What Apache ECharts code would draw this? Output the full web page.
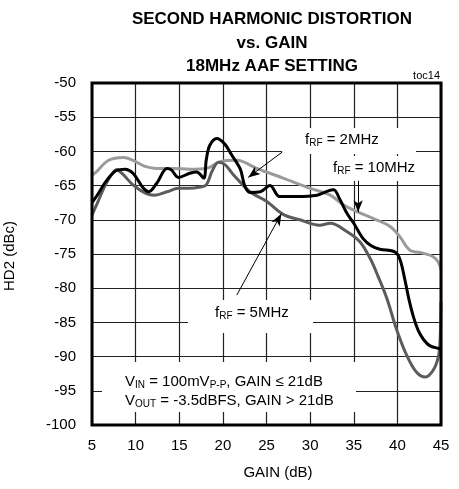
<!DOCTYPE html>
<html>
<head>
<meta charset="utf-8">
<script src="https://cdn.jsdelivr.net/npm/echarts@6.0.0/dist/echarts.min.js"></script>
<style>
    html, body { margin: 0; padding: 0; background: #fff; }
    #chart { width: 459px; height: 489px; }
</style>
</head>
<body>
<div id="chart"></div>
<script>
//曲线数据 (GAIN dB -> HD2 dBc)
var gain2MHz = [5, 5.5, 6.7, 7.8, 8.8, 9.7, 10.9, 11.5, 12.4, 13.6, 14.1, 14.9, 16.2, 17, 17.8, 18.1, 18.5, 19.3, 20.2, 21, 22, 22.5, 23.1, 24.3, 25.4, 26.5, 28.5, 30.8, 32, 32.7, 33.4, 34.2, 35, 36.1, 37, 38, 39.7, 40.3, 40.9, 41.3, 41.8, 42.4, 43, 43.7, 44.7, 45];
var hd2MHz = [-67.5, -66.6, -64.2, -62.8, -62.6, -63.2, -65.4, -65.9, -64.7, -62.5, -62.7, -63.8, -63.2, -63, -63.9, -61.2, -59.1, -58.1, -58.9, -60.5, -62.6, -65, -66, -65.9, -65, -66.6, -66.6, -66.4, -65.8, -65.6, -67, -69, -70.5, -72.8, -73.8, -74.3, -74.7, -75.8, -79, -81.5, -84, -86.2, -87.5, -88.4, -88.8, -88.9];

var gain5MHz = [5, 5.6, 6.5, 7.3, 7.8, 8.5, 9.7, 11.1, 12.2, 13.6, 14.9, 16.2, 17.4, 18.1, 18.8, 19.5, 20.3, 21.2, 23.1, 25, 26.9, 28.8, 31.1, 32.3, 34.2, 35.7, 36.9, 37.8, 38.8, 39.9, 41.1, 42.2, 43.2, 44.1, 44.7, 44.9, 45];
var hd5MHz = [-69.3, -67.6, -65, -63.3, -62.7, -63.3, -64.9, -66.1, -66.4, -65.9, -65.4, -65.4, -65.2, -64.9, -62.8, -61.6, -62, -63.4, -65.9, -67.3, -69.2, -70, -70.8, -70.5, -71.7, -73.2, -75.7, -78.3, -81.5, -86, -89.9, -92.3, -93, -92, -90, -87.5, -82];

var gain10MHz = [5, 5.5, 6.9, 8.6, 9.7, 11.1, 12.4, 14.3, 16.2, 18.1, 19.7, 21.6, 23.9, 26.9, 30, 32.3, 33.8, 35, 37.2, 39.2, 40.3, 41.4, 43, 44.1, 44.7, 45];
var hd10MHz = [-63.5, -63, -61.3, -60.9, -61.3, -62.2, -62.5, -62.5, -62.6, -62.5, -61.5, -61.3, -62.5, -63.9, -65.4, -66.4, -67.8, -68.6, -69.8, -71, -72.5, -74.4, -74.9, -75.4, -76.2, -77.3];

//标注箭头 [起点, 终点]
var arrow2MHz = [[26.8, -60.1], [22.9, -63.8]];
var arrow10MHz = [[35.5, -64.3], [35.5, -68.9]];
var arrow5MHz = [[21.6, -81.0], [26.7, -69.1]];

var xTicks = [5, 45, 5];
var yTicks = [-100, -50, 5];

var FONT = "'Liberation Sans', Arial, sans-serif";

function pairs(xs, ys) {
    var out = [];
    for (var i = 0; i < xs.length; i++) {
        out.push([xs[i], ys[i]]);
    }
    return out;
}

function arrowLine(a) {
    return [{coord: a[0], symbol: 'none'}, {coord: a[1], symbol: 'arrow'}];
}

function curve(name, xs, ys, color) {
    return {
        name: name,
        type: 'line',
        data: pairs(xs, ys),
        smooth: 0.35,
        showSymbol: false,
        lineStyle: {color: color, width: 3},
        z: 3
    };
}

var rich = {
    a: {fontFamily: FONT, fontSize: 15, lineHeight: 18, color: '#000'},
    s: {fontFamily: FONT, fontSize: 10, lineHeight: 8, verticalAlign: 'bottom', color: '#000'}
};

function label(x, y, text) {
    return {
        type: 'text', left: x, top: y, z: 5,
        style: {text: text, rich: rich, fill: '#000'}
    };
}

function box(x, y, w, h) {
    return {
        type: 'rect', shape: {x: x, y: y, width: w, height: h}, z: 1,
        style: {fill: '#fff'}
    };
}

var chart = echarts.init(document.getElementById('chart'), null, {renderer: 'canvas'});
var option = {
    animation: false,
    backgroundColor: '#fff',
    grid: {left: 92, right: 18, top: 83, bottom: 64, show: true, borderColor: '#000', borderWidth: 3, z: 4},
    xAxis: {
        type: 'value', min: xTicks[0], max: xTicks[1], interval: xTicks[2],
        axisLine: {show: false}, axisTick: {show: false},
        axisLabel: {fontFamily: FONT, fontSize: 15, color: '#000', margin: 13},
        splitLine: {lineStyle: {color: '#222', width: 1.2}}
    },
    yAxis: {
        type: 'value', min: yTicks[0], max: yTicks[1], interval: yTicks[2],
        axisLine: {show: false}, axisTick: {show: false},
        axisLabel: {fontFamily: FONT, fontSize: 15, color: '#000', margin: 16},
        splitLine: {lineStyle: {color: '#222', width: 1.2}}
    },
    graphic: [
        {type: 'text', x: 272, y: 8, z: 5, style: {text: 'SECOND HARMONIC DISTORTION\nvs. GAIN\n18MHz AAF SETTING', align: 'center', fontFamily: FONT, fontWeight: 'bold', fontSize: 17, lineHeight: 23.5, fill: '#000'}},
        {type: 'text', x: 440, y: 70, z: 5, style: {text: 'toc14', align: 'right', fontFamily: FONT, fontSize: 11, fill: '#000'}},
        {type: 'text', x: 278, y: 465, z: 5, style: {text: 'GAIN (dB)', align: 'center', fontFamily: FONT, fontSize: 15, fill: '#000'}},
        {type: 'text', x: 10, y: 256, rotation: Math.PI / 2, z: 5, style: {text: 'HD2 (dBc)', align: 'center', verticalAlign: 'middle', fontFamily: FONT, fontSize: 15, fill: '#000'}},
        box(282, 128, 134, 26),
        box(330, 156, 86, 25),
        box(188, 300, 125, 33),
        box(102, 362, 254, 50),
        label(305, 132, '{a|f}{s|RF}{a| = 2MHz}'),
        label(333, 160, '{a|f}{s|RF}{a| = 10MHz}'),
        label(215, 305, '{a|f}{s|RF}{a| = 5MHz}'),
        label(125, 374, '{a|V}{s|IN}{a| = 100mV}{s|P-P}{a|, GAIN ≤ 21dB}'),
        label(125, 393, '{a|V}{s|OUT}{a| = -3.5dBFS, GAIN > 21dB}')
    ],
    series: [
        curve('fRF = 10MHz', gain10MHz, hd10MHz, '#9b9b9b'),
        curve('fRF = 5MHz', gain5MHz, hd5MHz, '#5c5c5c'),
        curve('fRF = 2MHz', gain2MHz, hd2MHz, '#000'),
        {
            name: 'arrows',
            type: 'line',
            data: [],
            z: 6,
            markLine: {
                silent: true,
                animation: false,
                symbolSize: [7, 12],
                label: {show: false},
                lineStyle: {color: '#000', width: 1, type: 'solid'},
                data: [arrowLine(arrow2MHz), arrowLine(arrow10MHz), arrowLine(arrow5MHz)]
            }
        }
    ]
};
chart.setOption(option);
</script>
</body>
</html>
